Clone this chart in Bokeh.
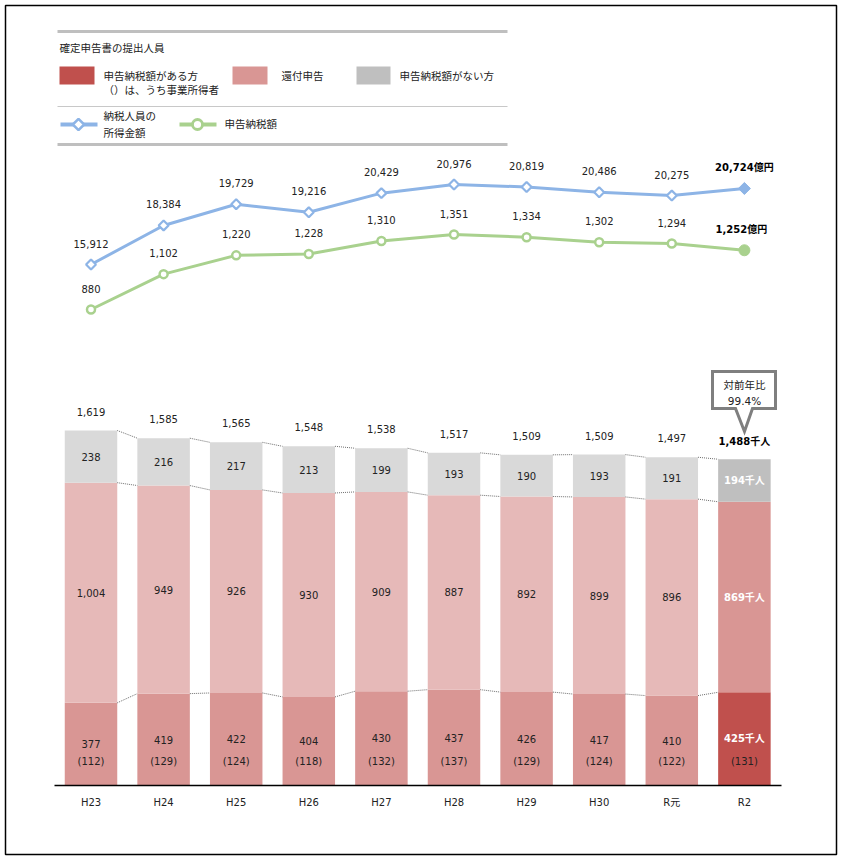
from bokeh.plotting import figure
from bokeh.models import Range1d, ColumnDataSource
from bokeh.core.properties import value
from bokeh.embed import file_html
from bokeh.resources import INLINE

# ---------------- data ----------------
years = ["H23", "H24", "H25", "H26", "H27", "H28", "H29", "H30", "R元", "R2"]
income_total = [15912, 18384, 19729, 19216, 20429, 20976, 20819, 20486, 20275, 20724]  # 納税人員の所得金額 (億円)
tax_total = [880, 1102, 1220, 1228, 1310, 1351, 1334, 1302, 1294, 1252]  # 申告納税額 (億円)
filers_total = [1619, 1585, 1565, 1548, 1538, 1517, 1509, 1509, 1497, 1488]  # 提出人員 (千人)
taxpaying = [377, 419, 422, 404, 430, 437, 426, 417, 410, 425]  # 申告納税額がある方
business = [112, 129, 124, 118, 132, 137, 129, 124, 122, 131]  # うち事業所得者
refund = [1004, 949, 926, 930, 909, 887, 892, 899, 896, 869]  # 還付申告
no_tax = [238, 216, 217, 213, 199, 193, 190, 193, 191, 194]  # 申告納税額がない方
yoy_text = ["対前年比", "99.4%"]

legend_title = "確定申告書の提出人員"
legend_bar_labels = [["申告納税額がある方", "（）は、うち事業所得者"], ["還付申告"], ["申告納税額がない方"]]
legend_line_labels = [["納税人員の", "所得金額"], ["申告納税額"]]

# ---------------- geometry (page pixels) ----------------
L, T, W, H = 0, 0, 840, 858
R, B = L + W, T + H
X0, DX = 90.5, 72.6          # centre of first category, spacing
BASE, KB = 785, 355 / 1619   # bar baseline, px per 千人
KI = 80 / 5064               # px per 億円 (income)
KT = 75 / 471                # px per 億円 (tax)


def px(a):
    return (a - X0) / DX


def py(a):
    return (BASE - a) / KB


def yrange(ref_val, ref_abs, k):
    return Range1d(ref_val - (B - ref_abs) / k, ref_val + (ref_abs - T) / k)


NUM = value("DejaVu Sans, Noto Sans CJK JP")
JP = value("Noto Sans CJK JP")
TXT = "#222222"

p = figure(width=W, height=H, x_range=Range1d(px(L), px(R)), y_range=yrange(0, BASE, KB),
           output_backend="svg", toolbar_location=None, tools="", min_border=0,
           x_axis_location=None, y_axis_location=None)
p.extra_y_ranges = {"inc": yrange(15912, 264, KI), "tax": yrange(880, 309, KT)}
p.grid.visible = False
p.outline_line_color = None
p.background_fill_color = "white"
p.border_fill_color = "white"

# outer frame
p.quad(left=[px(5)], right=[px(836)], top=[py(5)], bottom=[py(854)], fill_color=None,
       line_color="black", line_width=1.5)

n = len(years)
xs = list(range(n))
bw = 52.5 / DX
c_bot = ["#d99694"] * (n - 1) + ["#c0504d"]
c_mid = ["#e6b9b8"] * (n - 1) + ["#d99694"]
c_top = ["#d9d9d9"] * (n - 1) + ["#bfbfbf"]
b1 = taxpaying
b2 = [a + b for a, b in zip(taxpaying, refund)]
b3 = [a + b + c for a, b, c in zip(taxpaying, refund, no_tax)]

src = ColumnDataSource(dict(x=xs, b1=b1, b2=b2, b3=b3, cb=c_bot, cm=c_mid, ct=c_top))
p.vbar(x="x", bottom=0, top="b1", width=bw, fill_color="cb", line_color=None, source=src)
p.vbar(x="x", bottom="b1", top="b2", width=bw, fill_color="cm", line_color=None, source=src)
p.vbar(x="x", bottom="b2", top="b3", width=bw, fill_color="ct", line_color=None, source=src)

# connector dotted lines
for lvl in (b1, b2, b3):
    p.segment(x0=[i + bw / 2 for i in xs[:-1]], y0=lvl[:-1], x1=[i + 1 - bw / 2 for i in xs[:-1]], y1=lvl[1:],
              line_color="#6f6f6f", line_width=1, line_dash="1 1")

# x axis line and labels
p.segment(x0=[px(54)], y0=[0], x1=[px(781)], y1=[0], line_color="black", line_width=1.5)
p.text(x=xs, y=[0] * n, text=years, text_align="center", text_baseline="middle", y_offset=17,
       text_font=NUM, text_font_size="10px", text_color=TXT)

# bar labels (past years)
m = n - 1
p.text(x=xs[:m], y=b3[:m], text=[f"{v:,}" for v in filers_total[:m]], text_align="center",
       text_baseline="middle", y_offset=-19, text_font=NUM, text_font_size="10px", text_color=TXT)
p.text(x=xs[:m], y=[(a + b) / 2 for a, b in zip(b2[:m], b3[:m])], text=[f"{v:,}" for v in no_tax[:m]],
       text_align="center", text_baseline="middle", text_font=NUM, text_font_size="10px", text_color=TXT)
p.text(x=xs[:m], y=[(a + b) / 2 for a, b in zip(b1[:m], b2[:m])], text=[f"{v:,}" for v in refund[:m]],
       text_align="center", text_baseline="middle", text_font=NUM, text_font_size="10px", text_color=TXT)
p.text(x=xs[:m], y=[a / 2 for a in b1[:m]], text=[f"{v:,}" for v in taxpaying[:m]],
       text_align="center", text_baseline="middle", text_font=NUM, text_font_size="10px", text_color=TXT)
p.text(x=xs, y=[0] * n, text=[f"({v})" for v in business], text_align="center", text_baseline="middle",
       y_offset=-24, text_font=NUM, text_font_size="10px", text_color=TXT)

# latest year labels
p.text(x=xs[m:], y=b3[m:], text=[f"{filers_total[m]:,}千人"], text_align="center", text_baseline="middle",
       y_offset=-18, text_font=NUM, text_font_size="10px", text_font_style="bold", text_color="black")
p.text(x=[m, m, m], y=[(b2[m] + b3[m]) / 2, (b1[m] + b2[m]) / 2, b1[m] / 2],
       text=[f"{no_tax[m]}千人", f"{refund[m]}千人", f"{taxpaying[m]}千人"], text_align="center",
       text_baseline="middle", text_font=NUM, text_font_size="10px", text_font_style="bold", text_color="white")

# callout
cx = [712, 775, 775, 752, 744, 735, 712]
cy = [371, 371, 408, 408, 431, 408, 408]
p.patch(x=[px(a) for a in cx], y=[py(a) for a in cy], fill_color="white", line_color="#7f7f7f", line_width=3,
        line_join="miter")
p.text(x=[px(744), px(744)], y=[py(384), py(400)], text=yoy_text, text_align="center", text_baseline="middle",
       text_font=NUM, text_font_size="10.5px", text_color=TXT)

# lines
BLUE, GREEN = "#8db4e6", "#a9d18e"
p.line(x=xs, y=income_total, y_range_name="inc", line_color=BLUE, line_width=3)
p.scatter(x=xs[:m], y=income_total[:m], y_range_name="inc", marker="square", angle=0.7854, size=7,
          fill_color="white", line_color=BLUE, line_width=2.2)
p.scatter(x=xs[m:], y=income_total[m:], y_range_name="inc", marker="square", angle=0.7854, size=8.5,
          fill_color=BLUE, line_color=BLUE, line_width=1)
p.line(x=xs, y=tax_total, y_range_name="tax", line_color=GREEN, line_width=3)
p.scatter(x=xs[:m], y=tax_total[:m], y_range_name="tax", marker="circle", size=8,
          fill_color="white", line_color=GREEN, line_width=2.5)
p.scatter(x=xs[m:], y=tax_total[m:], y_range_name="tax", marker="circle", size=11,
          fill_color=GREEN, line_color=GREEN, line_width=1)

p.text(x=xs[:m], y=income_total[:m], y_range_name="inc", text=[f"{v:,}" for v in income_total[:m]],
       text_align="center", text_baseline="middle", y_offset=-21, text_font=NUM, text_font_size="10px",
       text_color=TXT)
p.text(x=xs[:m], y=tax_total[:m], y_range_name="tax", text=[f"{v:,}" for v in tax_total[:m]],
       text_align="center", text_baseline="middle", y_offset=-21, text_font=NUM, text_font_size="10px",
       text_color=TXT)
p.text(x=xs[m:], y=income_total[m:], y_range_name="inc", text=[f"{income_total[m]:,}億円"],
       text_align="center", text_baseline="middle", y_offset=-21, text_font=NUM, text_font_size="10px",
       text_font_style="bold", text_color="black")
p.text(x=xs[m:], y=tax_total[m:], y_range_name="tax", text=[f"{tax_total[m]:,}億円"],
       text_align="center", text_baseline="middle", y_offset=-21, x_offset=-3, text_font=NUM,
       text_font_size="10px", text_font_style="bold", text_color="black")

# ---------------- legend ----------------
p.segment(x0=[px(57), px(57)], y0=[py(31), py(144)], x1=[px(507), px(507)], y1=[py(31), py(144)],
          line_color="#bfbfbf", line_width=3)
p.segment(x0=[px(57)], y0=[py(106)], x1=[px(507)], y1=[py(106)], line_color="#c8c8c8", line_width=1.2)
p.text(x=[px(59)], y=[py(47)], text=[legend_title], text_baseline="middle", text_font=JP,
       text_font_size="10.5px", text_color=TXT)
sw_l = [59, 232, 356]
sw_r = [94, 267, 390]
p.quad(left=[px(a) for a in sw_l], right=[px(a) for a in sw_r], top=[py(66)] * 3, bottom=[py(84)] * 3,
       fill_color=["#c0504d", "#d99694", "#bfbfbf"], line_color=None)
lt_x = [103, 281, 399]
for xx, lines in zip(lt_x, legend_bar_labels):
    ys = [75, 89] if len(lines) == 2 else [75]
    p.text(x=[px(xx)] * len(lines), y=[py(a) for a in ys], text=lines, text_baseline="middle", text_font=JP,
           text_font_size="10.5px", text_color=TXT)

p.segment(x0=[px(60)], y0=[py(124)], x1=[px(97)], y1=[py(124)], line_color=BLUE, line_width=4)
p.scatter(x=[px(78)], y=[py(124)], marker="square", angle=0.7854, size=8, fill_color="white",
          line_color=BLUE, line_width=2.5)
p.segment(x0=[px(179)], y0=[py(124)], x1=[px(216)], y1=[py(124)], line_color=GREEN, line_width=4)
p.scatter(x=[px(197)], y=[py(124)], marker="circle", size=10, fill_color="white", line_color=GREEN,
          line_width=2.8)
p.text(x=[px(103)] * 2, y=[py(115), py(132)], text=legend_line_labels[0], text_baseline="middle", text_font=JP,
       text_font_size="10.5px", text_color=TXT)
p.text(x=[px(224)], y=[py(123)], text=legend_line_labels[1], text_baseline="middle", text_font=JP,
       text_font_size="10.5px", text_color=TXT)

open("out.html", "w").write(file_html(p, INLINE))
